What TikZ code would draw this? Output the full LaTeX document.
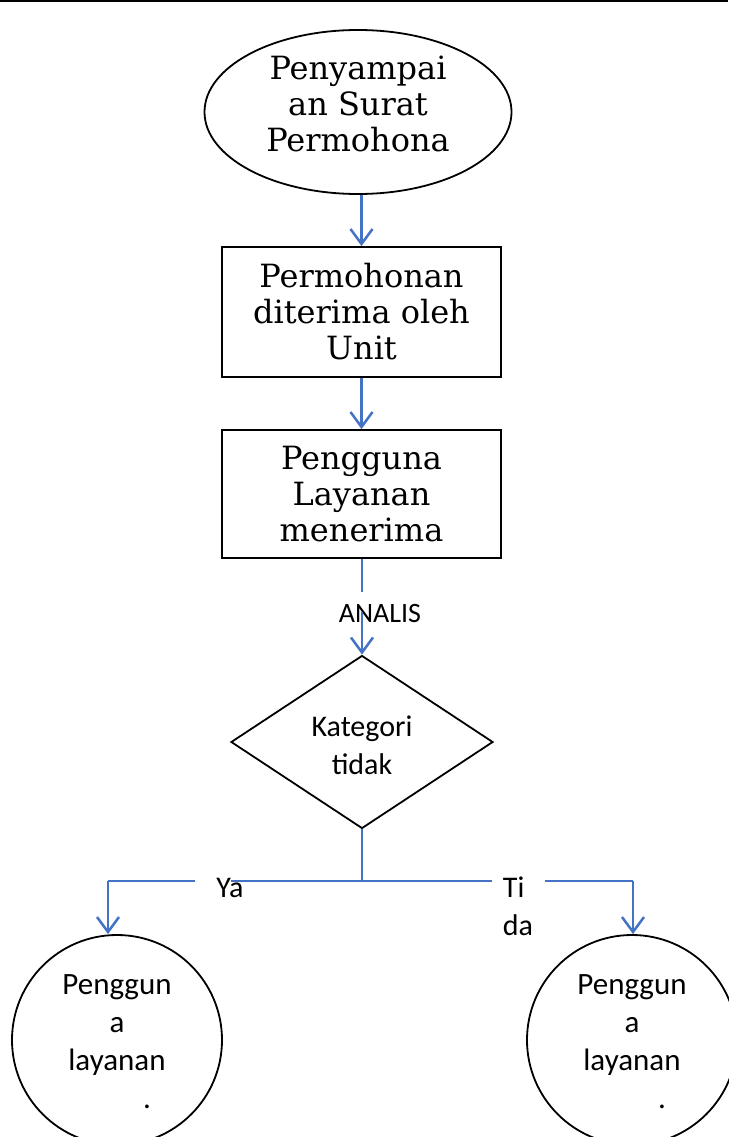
\documentclass[tikz,border=0pt]{standalone}
\usepackage{fontspec}
\setmainfont{DejaVu Serif}
\newfontfamily\calib{Carlito}
\usetikzlibrary{shapes.geometric,arrows.meta}
\definecolor{flowblue}{HTML}{4472C4}
\tikzset{
  serifbox/.style={draw,line width=1.8pt,font=\fontsize{32}{36}\selectfont,align=center,inner sep=0pt},
  shapeline/.style={draw,line width=1.8pt,inner sep=0pt},
  sanstext/.style={font=\calib\fontsize{31}{38}\selectfont,align=center,inner sep=0pt},
  flow/.style={draw=flowblue,line width=2.5pt,-{Straight Barb[length=15pt,width=22pt,line width=2.5pt]}},
  thinflow/.style={draw=flowblue,line width=1.2pt},
}
\begin{document}
\begin{tikzpicture}[x=1pt,y=-1pt]
\useasboundingbox (0,0) rectangle (728,1137);
\draw[line width=2.5pt] (0,1) -- (728,1);
% nodes
\node[shapeline,ellipse,minimum width=307pt,minimum height=164pt] (e) at (358,112) {};
\node[font=\fontsize{32}{36}\selectfont,align=center,inner sep=0pt] (et) at (358,104) {Penyampai\\an Surat\\Permohona};
\node[serifbox,rectangle,minimum width=279pt,minimum height=130pt] (b1) at (361.5,312) {Permohonan\\diterima oleh\\Unit};
\node[serifbox,rectangle,minimum width=279pt,minimum height=128pt] (b2) at (361.5,494) {Pengguna\\Layanan\\menerima};
\node[shapeline,diamond,minimum width=262pt,minimum height=173pt] (d) at (362,742) {};
\node[sanstext,font=\calib\fontsize{30}{38}\selectfont] (dt) at (362,745) {Kategori\\tidak};
\node[shapeline,circle,minimum size=210pt] (c1) at (117,1040) {};
\node[shapeline,circle,minimum size=210pt] (c2) at (632,1040) {};
\node[sanstext] (c1t) at (117,1042) {Penggun\\a\\layanan\\\hspace*{60pt}.};
\node[sanstext] (c2t) at (632,1042) {Penggun\\a\\layanan\\\hspace*{60pt}.};
\node[sanstext,font=\calib\fontsize{28}{38}\selectfont] (an) at (380,614) {ANALIS};
\node[sanstext,font=\calib\fontsize{30}{38}\selectfont] (ya) at (230,888) {Ya};
\node[sanstext,font=\calib\fontsize{30}{38}\selectfont,align=left] (td) at (518,906) {Ti\\da};
% coordinates
\coordinate (j) at (362,881);
\coordinate (lc) at (108,881);
\coordinate (rc) at (633,881);
\coordinate (a1) at (362,592);
\coordinate (a2) at (362,612);
% connectors
\draw[flow] (b1.north |- e.south) -- (b1.north);
\draw[flow] (b1.south) -- (b2.north);
\draw[thinflow] (b2.south -| a1) -- (a1);
\draw[flow] (a2) -- (d.north);
\draw[thinflow] (d.south) -- (j);
\draw[thinflow] (j) -- (231,881);
\draw[thinflow] (195,881) -- (lc);
\draw[flow,line width=2pt] (lc) -- (lc |- c1.north);
\draw[thinflow] (j) -- (492,881);
\draw[thinflow] (545,881) -- (rc);
\draw[flow,line width=2pt] (rc) -- (rc |- c2.north);
\end{tikzpicture}
\end{document}
